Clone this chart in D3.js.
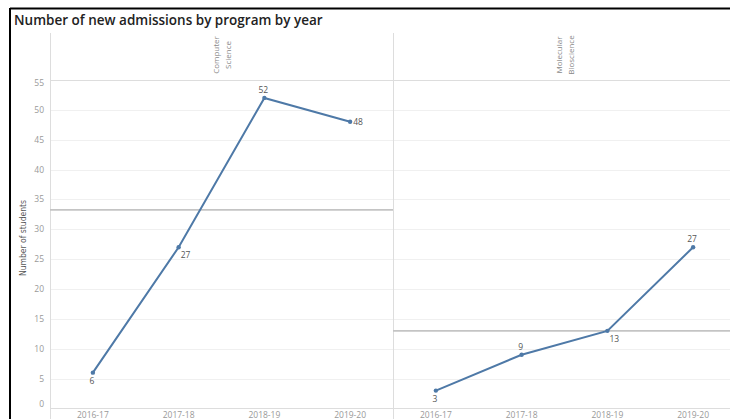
<!DOCTYPE html>
<html lang="en">
	<head>
		<meta charset="utf-8">
		<title>new admissions</title>
		<script type="text/javascript" src="https://d3js.org/d3.v7.min.js"></script>
		<style type="text/css">
            body{margin:0;background:#fff;font-family:"Open Sans",sans-serif;}
            #chart1{width:730px;height:419px;overflow:hidden;}
		</style>
	</head>
	<body>
    <div id="chart1"></div>
		<script type="text/javascript">
            //values
            var programs = ["Computer Science", "Molecular Bioscience"]
            var headerLines = [["Computer", "Science"], ["Molecular", "Bioscience"]]
            var years = ["2016-17", "2017-18", "2018-19", "2019-20"]
            var csValues = [6, 27, 52, 48]
            var mbValues = [3, 9, 13, 27]
            var yTicks = [0, 5, 10, 15, 20, 25, 30, 35, 40, 45, 50, 55]
            //where each point label sits
            var csLabelPos = ["below", "belowright", "above", "right"]
            var mbLabelPos = ["below", "above", "belowright", "above"]

            drawChart()

            function drawChart(){
                var series = [
                    {program: programs[0], values: csValues, pos: csLabelPos},
                    {program: programs[1], values: mbValues, pos: mbLabelPos}
                ]

                var w = 730
                var h = 419
                var plotLeft = 50, plotTop = 80, headTop = 33, plotBottom = 408.5
                var panelW = 343

                var svg = d3.select("#chart1")
                            .append("svg")
                            .attr("width", w)
                            .attr("height", h)

                var xPanel = d3.scaleBand().domain(programs).range([plotLeft, plotLeft + panelW * programs.length])
                var xYear = d3.scaleBand().domain(years).range([0, panelW])
                var yScale = d3.scaleLinear().domain([0, 55]).range([plotBottom, plotTop])

                //frame
                svg.append("line").attr("x1", 10).attr("x2", w).attr("y1", 8.5).attr("y2", 8.5)
                    .attr("stroke", "#000").attr("stroke-width", 2)
                svg.append("line").attr("x1", 10).attr("x2", 10).attr("y1", 8).attr("y2", h)
                    .attr("stroke", "#000").attr("stroke-width", 2)

                svg.append("text")
                    .attr("x", 14).attr("y", 25)
                    .attr("font-size", "13.5px").attr("font-weight", 600)
                    .attr("fill", "#222")
                    .text("Number of new admissions by program by year")

                //gridlines
                svg.selectAll(".grid")
                    .data(yTicks.filter(function(d){ return d > 0 && d < 55 }))
                    .enter()
                    .append("line")
                    .attr("x1", plotLeft).attr("x2", w)
                    .attr("y1", function(d){ return Math.round(yScale(d)) + 0.5 })
                    .attr("y2", function(d){ return Math.round(yScale(d)) + 0.5 })
                    .attr("stroke", "#f0f0f0")

                //header bottom line and axis line
                svg.append("line").attr("x1", plotLeft).attr("x2", w).attr("y1", 80.5).attr("y2", 80.5)
                    .attr("stroke", "#ddd")
                svg.append("line").attr("x1", plotLeft).attr("x2", w).attr("y1", 408.5).attr("y2", 408.5)
                    .attr("stroke", "#ddd")

                //panel borders
                svg.selectAll(".divider")
                    .data(programs)
                    .enter()
                    .append("line")
                    .attr("x1", function(d){ return Math.round(xPanel(d)) + 0.5 })
                    .attr("x2", function(d){ return Math.round(xPanel(d)) + 0.5 })
                    .attr("y1", headTop).attr("y2", h)
                    .attr("stroke", "#ddd")

                //y tick labels
                svg.selectAll(".ytick")
                    .data(yTicks)
                    .enter()
                    .append("text")
                    .attr("x", 44)
                    .attr("y", function(d){
                        var y = yScale(d)
                        if (d == 0) y -= 5
                        if (d == 55) y += 3
                        return y + 3
                    })
                    .attr("text-anchor", "end")
                    .attr("font-size", "8.5px")
                    .attr("fill", "#999")
                    .text(function(d){ return d })

                svg.append("text")
                    .attr("transform", "translate(26,238) rotate(-90)")
                    .attr("text-anchor", "middle")
                    .attr("font-family", "'Liberation Sans Narrow','DejaVu Sans Condensed',sans-serif")
                    .attr("font-size", "8.5px")
                    .attr("fill", "#555")
                    .text("Number of students")

                //panel headers
                programs.forEach(function(p, i){
                    var cx = xPanel(p) + xPanel.bandwidth() / 2
                    headerLines[i].forEach(function(line, j){
                        svg.append("text")
                            .attr("transform", "translate(" + (cx - 3 + j * 12) + ",55) rotate(-90)")
                            .attr("text-anchor", "middle")
                            .attr("font-size", "8px")
                            .attr("fill", "#888")
                            .text(line)
                    })
                    //x tick labels
                    svg.selectAll(".xtick" + i)
                        .data(years)
                        .enter()
                        .append("text")
                        .attr("x", function(d){ return xPanel(p) + xYear(d) + xYear.bandwidth() / 2 })
                        .attr("y", 418)
                        .attr("text-anchor", "middle")
                        .attr("font-size", "8.5px")
                        .attr("fill", "#999")
                        .text(function(d){ return d })
                })

                //reference (average) lines
                svg.selectAll(".refline")
                    .data(series)
                    .enter()
                    .append("line")
                    .attr("x1", function(d){ return xPanel(d.program) })
                    .attr("x2", function(d){ return xPanel(d.program) + panelW })
                    .attr("y1", function(d){ return yScale(d3.mean(d.values)) })
                    .attr("y2", function(d){ return yScale(d3.mean(d.values)) })
                    .attr("stroke", "#c4c4c4")
                    .attr("stroke-width", 1.6)

                var line = d3.line()
                    .x(function(d){ return d.x })
                    .y(function(d){ return d.y })

                series.forEach(function(s){
                    var pts = s.values.map(function(v, i){
                        return {
                            x: xPanel(s.program) + xYear(years[i]) + xYear.bandwidth() / 2,
                            y: yScale(v), v: v, pos: s.pos[i]
                        }
                    })
                    svg.append("path")
                        .datum(pts)
                        .attr("d", line)
                        .attr("fill", "none")
                        .attr("stroke", "#4e79a7")
                        .attr("stroke-width", 2)
                    svg.selectAll(null)
                        .data(pts)
                        .enter()
                        .append("circle")
                        .attr("cx", function(d){ return d.x })
                        .attr("cy", function(d){ return d.y })
                        .attr("r", 2.2)
                        .attr("fill", "#4e79a7")
                    svg.selectAll(null)
                        .data(pts)
                        .enter()
                        .append("text")
                        .attr("x", function(d){
                            if (d.pos == "right") return d.x + 3
                            if (d.pos == "belowright") return d.x + 2
                            return d.x - 1
                        })
                        .attr("y", function(d){
                            if (d.pos == "above") return d.y - 5
                            if (d.pos == "right") return d.y + 3
                            return d.y + 11
                        })
                        .attr("text-anchor", function(d){ return (d.pos == "right" || d.pos == "belowright") ? "start" : "middle" })
                        .attr("font-size", "8.5px")
                        .attr("fill", "#555")
                        .text(function(d){ return d.v })
                })
            }
        </script>
	</body>
</html>
